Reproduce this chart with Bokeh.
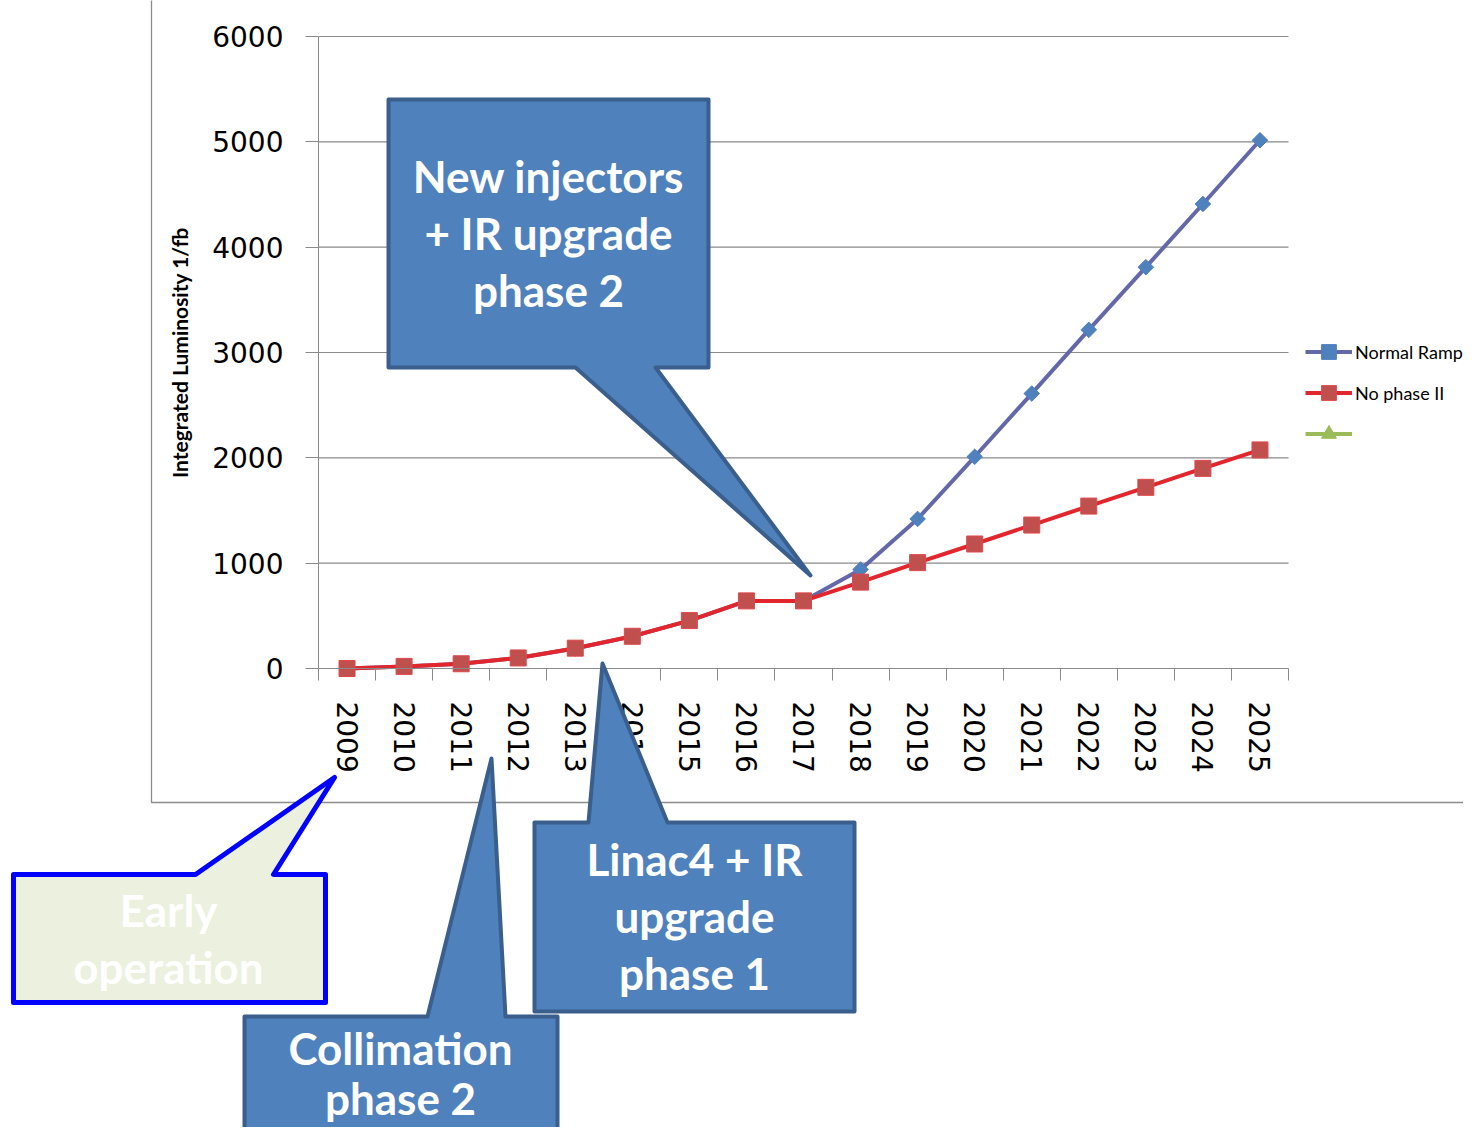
import math
from bokeh.plotting import figure
from bokeh.models import (Range1d, LinearAxis, FixedTicker, Legend, LegendItem,
                          Label, ColumnDataSource)
from bokeh.embed import file_html
from bokeh.resources import INLINE

# ---------------- data ----------------
years = ["2009", "2010", "2011", "2012", "2013", "2014", "2015", "2016", "2017",
         "2018", "2019", "2020", "2021", "2022", "2023", "2024", "2025"]
normal_ramp = [0, 20, 45, 100, 190, 305, 455, 640, 640, 940, 1420, 2010, 2610,
               3215, 3810, 4410, 5015]
no_phase_ii = [0, 20, 45, 100, 193, 306, 455, 642, 642, 820, 1005, 1182, 1362,
               1542, 1720, 1900, 2075]
# third (unnamed) series: present in the legend, but all its cells are empty
third_values = [float("nan")] * len(years)
y_ticks = [0, 1000, 2000, 3000, 4000, 5000, 6000]
y_max = 6000

# ---------------- layout (pixels) ----------------
W, H = 1463, 1127
PL, PR, PT, PB = 318, 1288, 36, 668          # plot area inside the canvas
n = len(years)
ux = (PR - PL) / n                             # px per category
uy = (PB - PT) / y_max                         # px per unit

p = figure(width=W, height=H, output_backend="svg", toolbar_location=None,
           x_range=Range1d(-PL / ux, n + (W - PR) / ux),
           y_range=Range1d(-(H - PB) / uy, y_max + PT / uy),
           x_axis_type=None, y_axis_type=None)
p.min_border = 0
p.outline_line_color = None
p.background_fill_color = "white"
p.border_fill_color = "white"
p.xgrid.visible = False
p.ygrid.visible = False
# pixel ranges: reference-picture coordinates (y downward)
p.extra_x_ranges = {"px": Range1d(0, W)}
p.extra_y_ranges = {"px": Range1d(H, 0)}

GRID = "#8a8a8a"
TICKFONT = "DejaVu Sans"

# chart-area border (clipped at top and right)
p.line([151, 151, 1600], [-20, 802, 802], x_range_name="px", y_range_name="px",
       line_color="#8c8c8c", line_width=1.3)

# horizontal gridlines
grid_vals = [v for v in y_ticks if v > 0]
p.segment(x0=[0] * len(grid_vals), y0=grid_vals, x1=[n] * len(grid_vals), y1=grid_vals,
          line_color=GRID, line_width=1.2)

# x axis: labels at category centres, tick marks at category boundaries
xs = [i + 0.5 for i in range(n)]
xaxis = LinearAxis(ticker=FixedTicker(ticks=xs, minor_ticks=list(range(n + 1))),
                   fixed_location=0, bounds=(0, n))
xaxis.major_label_overrides = {x: y for x, y in zip(xs, years)}
xaxis.major_label_orientation = -math.pi / 2
xaxis.major_tick_out = 0
xaxis.major_tick_in = 0
xaxis.minor_tick_out = 12
xaxis.minor_tick_in = 0
xaxis.minor_tick_line_color = GRID
xaxis.axis_line_color = GRID
xaxis.major_label_standoff = 21
xaxis.major_label_text_font = TICKFONT
xaxis.major_label_text_font_size = "28px"
xaxis.major_label_text_color = "black"
p.add_layout(xaxis, "below")

yaxis = LinearAxis(ticker=FixedTicker(ticks=y_ticks, minor_ticks=[]),
                   fixed_location=0, bounds=(0, y_max))
yaxis.major_tick_out = 13
yaxis.major_tick_in = 0
yaxis.major_tick_line_color = GRID
yaxis.axis_line_color = GRID
yaxis.major_label_standoff = 22
yaxis.major_label_text_font = TICKFONT
yaxis.major_label_text_font_size = "28px"
yaxis.major_label_text_color = "black"
yaxis.axis_label = "Integrated Luminosity 1/fb"
yaxis.axis_label_text_font = "Lato"
yaxis.axis_label_text_font_size = "21px"
yaxis.axis_label_text_font_style = "bold"
yaxis.axis_label_text_color = "black"
yaxis.axis_label_standoff = 17
p.add_layout(yaxis, "left")

# ---------------- series ----------------
src_n = ColumnDataSource(dict(x=xs, y=normal_ramp))
src_r = ColumnDataSource(dict(x=xs, y=no_phase_ii))
src_g = ColumnDataSource(dict(x=xs, y=third_values))

ln = p.line("x", "y", source=src_n, line_color="#6467a8", line_width=4)
mn = p.scatter("x", "y", source=src_n, marker="square", angle=math.pi / 4, size=11,
               fill_color="#4f81bd", line_color="#4f81bd")
lr = p.line("x", "y", source=src_r, line_color="#e2262d", line_width=4)
mr = p.scatter("x", "y", source=src_r, marker="square", size=16,
               fill_color="#c0504d", line_color="#e0474c", line_width=1)
lg = p.line("x", "y", source=src_g, line_color="#9bbb59", line_width=4)
mg = p.scatter("x", "y", source=src_g, marker="triangle", size=15,
               fill_color="#9bbb59", line_color="#9bbb59")

legend = Legend(items=[LegendItem(label="Normal Ramp", renderers=[ln, mn]),
                       LegendItem(label="No phase II", renderers=[lr, mr]),
                       LegendItem(label=" ", renderers=[lg, mg])],
                location=(1305, H - 452), padding=0, margin=0, spacing=4,
                glyph_width=47, glyph_height=37, label_height=20, label_standoff=3,
                label_text_font="Lato", label_text_font_size="18px",
                label_text_color="black", border_line_color=None,
                background_fill_alpha=0)
p.add_layout(legend, "center")

# ---------------- callouts ----------------
def callout(xs_, ys_, fill, line, lw):
    p.patch(xs_, ys_, x_range_name="px", y_range_name="px",
            fill_color=fill, line_color=line, line_width=lw, line_join="round",
            level="annotation")

def lines(texts, cx, baselines, size="44px", color="white"):
    for t, b in zip(texts, baselines):
        p.add_layout(Label(x=cx, y=b - 17, text=t, x_range_name="px", y_range_name="px",
                           text_align="center", text_baseline="alphabetic",
                           text_font="Lato", text_font_style="bold",
                           text_font_size=size, text_color=color, level="overlay"))

BLUE = "#4f81bd"
DARK = "#3a5f8c"

# New injectors + IR upgrade phase 2
callout([388, 708, 708, 655, 810, 575, 388], [99, 99, 367, 367, 575, 367, 367], BLUE, DARK, 4)
lines(["New injectors", "+ IR upgrade", "phase 2"], 548, [192, 249, 306])

# Early operation
callout([13, 195, 334, 273, 325, 325, 13], [874, 874, 777, 874, 874, 1002, 1002],
        "#ebf1de", "#0000ff", 5)
lines(["Early", "operation"], 168, [926, 983])

# Collimation phase 2
callout([244, 427, 491, 505, 557, 557, 244], [1016, 1016, 758, 1016, 1016, 1200, 1200],
        BLUE, DARK, 4)
lines(["Collimation", "phase 2"], 400, [1064, 1114])

# Linac4 + IR upgrade phase 1
callout([534, 588, 602, 667, 854, 854, 534], [822, 822, 663, 822, 822, 1011, 1011],
        BLUE, DARK, 4)
lines(["Linac4 + IR", "upgrade", "phase 1"], 694, [875, 932, 989])

open("out.html", "w").write(file_html(p, INLINE))
